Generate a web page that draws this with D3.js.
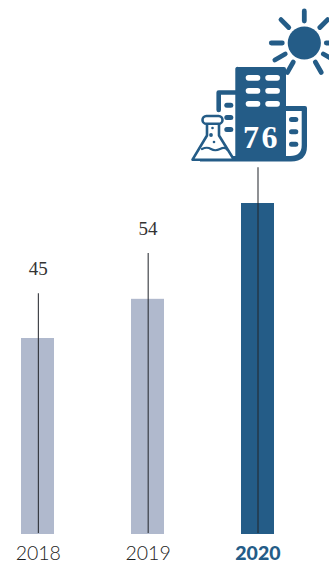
<!DOCTYPE html>
<html><head><meta charset="utf-8">
<script src="https://cdnjs.cloudflare.com/ajax/libs/d3/7.8.5/d3.min.js"></script>
<style>html,body{margin:0;padding:0;background:#fff;overflow:hidden}svg{display:block}</style>
</head><body>
<script>
const years = ["2018", "2019", "2020"];
const values = [45, 54, 76];
const leaderTops = [55.3, 64.5, 84.2];

const W = 329, H = 562, blue = "#245c87", grey = "#b0b9cd", ink = "#333333";
const svg = d3.select("body").append("svg").attr("width", W).attr("height", H);

const x = d3.scalePoint().domain(years).range([38, 257.6]);
const y = d3.scaleLinear().domain([0, 76]).range([534, 203]);
const barW = 33;
const current = d => d === "2020";
const rows = years.map((year, i) => ({year, value: values[i], top: leaderTops[i]}));

svg.selectAll("rect.bar").data(rows).join("rect").attr("class", "bar")
  .attr("x", d => Math.floor(x(d.year) - barW / 2)).attr("width", barW)
  .attr("y", d => y(d.value)).attr("height", d => y(0) - y(d.value))
  .attr("fill", d => current(d.year) ? blue : grey);

svg.selectAll("line.leader").data(rows).join("line").attr("class", "leader")
  .attr("x1", d => x(d.year) + 0.4).attr("x2", d => x(d.year) + 0.4)
  .attr("y1", d => y(d.top)).attr("y2", d => y(0) - 1)
  .attr("stroke", "#23262c").attr("stroke-opacity", 0.85).attr("stroke-width", 1.2);

svg.selectAll("text.year").data(rows).join("text").attr("class", "year")
  .attr("x", d => x(d.year) + 0.3).attr("y", 559.5)
  .attr("text-anchor", "middle")
  .attr("font-family", "Lato, 'Open Sans', sans-serif")
  .attr("font-size", 19.5)
  .attr("font-weight", d => current(d.year) ? 900 : 300)
  .attr("fill", d => current(d.year) ? blue : "#1c1c1c")
  .text(d => d.year);

svg.selectAll("text.value").data(rows.filter(d => !current(d.year))).join("text").attr("class", "value")
  .attr("x", d => x(d.year) + 0.2).attr("y", d => y(d.value) - 63.5)
  .attr("text-anchor", "middle")
  .attr("font-family", "'Liberation Serif', serif").attr("font-size", 19)
  .attr("fill", ink).text(d => d.value);

/* Decorative icon above the last bar */
const icon = svg.append("g").attr("class", "icon");

// sun
const sunC = [304.3, 43];
icon.append("circle").attr("cx", sunC[0]).attr("cy", sunC[1]).attr("r", 16.6).attr("fill", blue);
const rays = [[-90,22,32],[-45,22,33],[0,22,34],[30,22,34],[60,22,34],[120,22,34],[150,22,34],[180,22,33],[-135,22,33]];
icon.selectAll("line.ray").data(rays).join("line").attr("class", "ray")
  .attr("x1", d => sunC[0] + d[1] * Math.cos(d[0] * Math.PI / 180))
  .attr("y1", d => sunC[1] + d[1] * Math.sin(d[0] * Math.PI / 180))
  .attr("x2", d => sunC[0] + d[2] * Math.cos(d[0] * Math.PI / 180))
  .attr("y2", d => sunC[1] + d[2] * Math.sin(d[0] * Math.PI / 180))
  .attr("stroke", blue).attr("stroke-width", 4.8).attr("stroke-linecap", "round");

// left building outline
icon.append("path").attr("d", "M218.7 110V92.5H240").attr("fill", "none")
  .attr("stroke", blue).attr("stroke-width", 4.6).attr("stroke-linecap", "round").attr("stroke-linejoin", "round");
// right building + base
icon.append("path").attr("fill", blue)
  .attr("d", "M236 106H305a2 2 0 0 1 2 2V146q0 15.500 -16 15.500H200V156H286V111H236Z");
icon.append("path").attr("fill", "#fff").attr("d", "M286 111H301.700V145q0 11 -11.500 11H286Z");
// main tower
icon.append("path").attr("fill", blue)
  .attr("d", "M238 67H284a2 2 0 0 1 2 2V160H235.300V69a2 2 0 0 1 2.700 -2Z");

const pill = (px, py, w, h, fill) => icon.append("rect")
  .attr("x", px).attr("y", py).attr("width", w).attr("height", h)
  .attr("rx", h / 2).attr("fill", fill);
[75, 88, 101].forEach(py => [245.7, 265.3].forEach(px => pill(px, py, 14.6, 5.7, "#fff")));
[102.700, 115, 127].forEach(py => pill(224.300, py, 9, 5, blue));
[117, 129.300, 141.700].forEach(py => pill(289, py, 9.300, 5, blue));

// flask
icon.append("path").attr("fill", "#fff").attr("stroke", blue).attr("stroke-width", 2.6)
  .attr("stroke-linejoin", "round").attr("stroke-linecap", "round")
  .attr("d", "M207 123.500V135.500L192.500 159.700H234L219 135.500V123.500");
icon.append("rect").attr("x", 202.500).attr("y", 116).attr("width", 20).attr("height", 7.800).attr("rx", 3.900)
  .attr("fill", "#fff").attr("stroke", blue).attr("stroke-width", 2.6);
icon.append("path").attr("fill", "none").attr("stroke", blue).attr("stroke-width", 2.200).attr("stroke-linecap", "round")
  .attr("d", "M202 149q5 -2.500 9 0t9 0t7 0.500");
[[212.500,128,1.300],[211,135,1.900],[214,142,1.300]].forEach(d =>
  icon.append("circle").attr("cx", d[0]).attr("cy", d[1]).attr("r", d[2]).attr("fill", blue));

// value inside the icon
icon.append("text").attr("x", 261.500).attr("y", 147.700).attr("text-anchor", "middle")
  .attr("font-family", "'Liberation Serif', serif").attr("font-weight", 700).attr("font-size", 32)
  .attr("letter-spacing", 2.500).attr("fill", "#fff").text(values[2]);
</script>
</body></html>
